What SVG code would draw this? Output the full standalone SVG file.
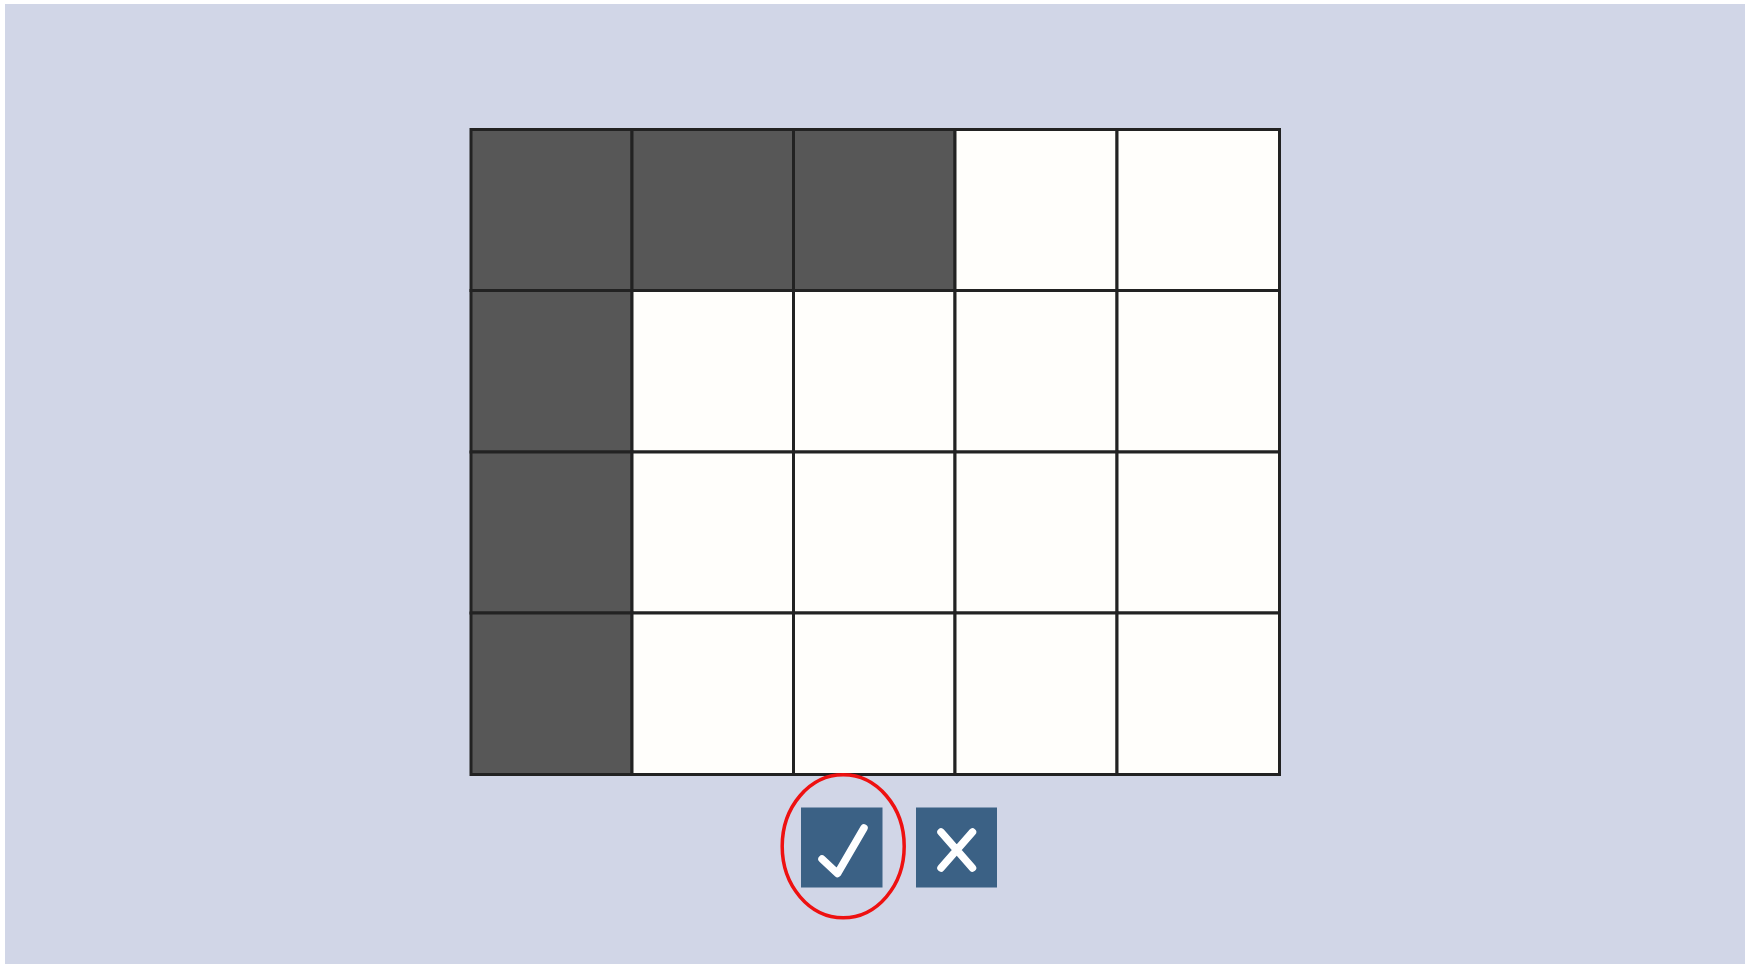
<svg xmlns="http://www.w3.org/2000/svg" width="1745" height="964" viewBox="0 0 1745 964">
<style>
.dark{fill:#575757;stroke:#222;stroke-width:3}
.light{fill:#fffefb;stroke:#222;stroke-width:3}
.btn{fill:#3b6185}
.glyph{fill:none;stroke:#ffffff;stroke-width:7.5;stroke-linecap:round;stroke-linejoin:round}
</style>
<rect x="0" y="0" width="1745" height="964" fill="#ffffff"/>
<rect x="5" y="4" width="1740" height="960" fill="#d1d6e7"/>
<g id="grid">
<rect class="dark" x="471" y="129.5" width="161" height="161"/>
<rect class="dark" x="632" y="129.5" width="161.5" height="161"/>
<rect class="dark" x="793.5" y="129.5" width="161.5" height="161"/>
<rect class="light" x="955" y="129.5" width="162" height="161"/>
<rect class="light" x="1117" y="129.5" width="162.5" height="161"/>
<rect class="dark" x="471" y="290.5" width="161" height="161.5"/>
<rect class="light" x="632" y="290.5" width="161.5" height="161.5"/>
<rect class="light" x="793.5" y="290.5" width="161.5" height="161.5"/>
<rect class="light" x="955" y="290.5" width="162" height="161.5"/>
<rect class="light" x="1117" y="290.5" width="162.5" height="161.5"/>
<rect class="dark" x="471" y="452" width="161" height="161"/>
<rect class="light" x="632" y="452" width="161.5" height="161"/>
<rect class="light" x="793.5" y="452" width="161.5" height="161"/>
<rect class="light" x="955" y="452" width="162" height="161"/>
<rect class="light" x="1117" y="452" width="162.5" height="161"/>
<rect class="dark" x="471" y="613" width="161" height="161.5"/>
<rect class="light" x="632" y="613" width="161.5" height="161.5"/>
<rect class="light" x="793.5" y="613" width="161.5" height="161.5"/>
<rect class="light" x="955" y="613" width="162" height="161.5"/>
<rect class="light" x="1117" y="613" width="162.5" height="161.5"/>
</g>
<g id="check-button">
<rect class="btn" x="801" y="807.5" width="81.5" height="80"/>
<path class="glyph" d="M822 859 L837.5 873.5 L864 828"/>
</g>
<g id="cross-button">
<rect class="btn" x="916" y="807.5" width="81" height="80"/>
<path class="glyph" d="M941 832 L972.5 868 M972.5 832 L941 868"/>
</g>
<g id="highlight">
<ellipse cx="843.2" cy="846.3" rx="61" ry="71.5" fill="none" stroke="#ee1111" stroke-width="3.5"/>
</g>
</svg>
